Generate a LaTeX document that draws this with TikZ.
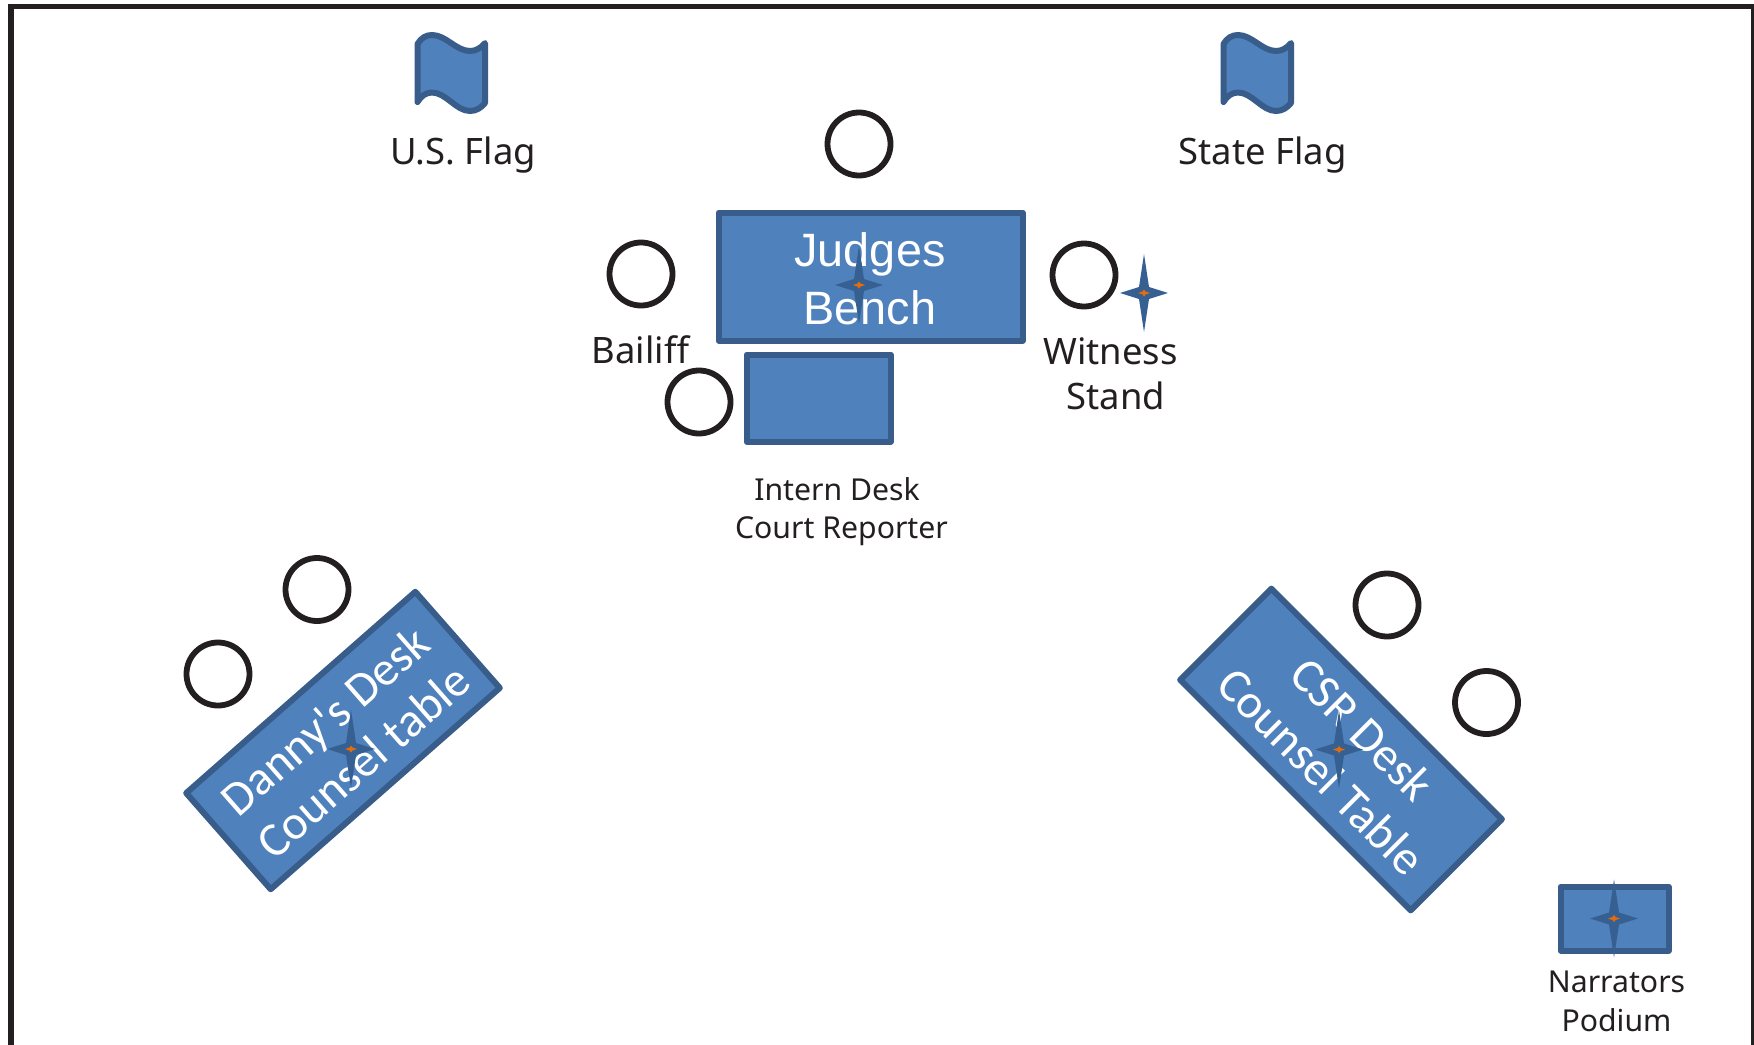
\documentclass[tikz,border=0pt]{standalone}
\usepackage{fontspec}
\setmainfont{Noto Sans}
\newfontfamily\tablefont{Carlito}
\newfontfamily\benchfont{Liberation Sans}
\definecolor{deskfill}{HTML}{4F81BD}
\definecolor{deskline}{HTML}{385D8A}
\definecolor{inkline}{HTML}{231F20}
\definecolor{starfill}{HTML}{376092}
\definecolor{starcore}{HTML}{E46C0A}
\tikzset{
  deskbox/.style={draw=deskline,fill=deskfill,line width=3pt,line join=round,rectangle,inner sep=0pt},
  seat/.style={draw=inkline,fill=white,line width=2.9pt,circle,inner sep=0pt,minimum size=31.5pt},
  biglabel/.style={text=inkline,anchor=base,inner sep=0pt,font=\fontsize{18.2}{18.2}\selectfont},
  smalllabel/.style={text=inkline,anchor=base,inner sep=0pt,font=\fontsize{15.1}{15.1}\selectfont},
  desktext/.style={text=white,anchor=base,inner sep=0pt,font=\tablefont\fontsize{24.1}{24.1}\selectfont},
  benchtext/.style={text=white,anchor=base,inner sep=0pt,font=\benchfont\fontsize{23.4}{23.4}\selectfont},
  flagshape/.pic={
    \draw[draw=deskline,fill=deskfill,line width=3pt,line join=round,line cap=round]
      (0,9) .. controls (3.5,3) and (8.5,0) .. (14.5,0)
      .. controls (28.5,0) and (38.5,16) .. (52.5,16)
      .. controls (58.5,16) and (63.5,13) .. (67.5,8)
      -- (67.5,68) .. controls (63.5,73) and (58.5,76) .. (52.5,76)
      .. controls (38.5,76) and (28.5,57.5) .. (14.5,57.5)
      .. controls (8.5,57.5) and (3.5,61) .. (0,67) -- cycle;
  },
  sparkle/.pic={
    \fill[starfill] (0,-39) -- (5,-6) -- (24,0) -- (5,6) -- (0,39) -- (-5,6) -- (-24,0) -- (-5,-6) -- cycle;
    \fill[starcore] (0,-3.5) -- (1.5,-1.5) -- (6,0) -- (1.5,1.5) -- (0,3.5) -- (-1.5,1.5) -- (-6,0) -- (-1.5,-1.5) -- cycle;
  },
}
\begin{document}
\begin{tikzpicture}[x=0.5pt,y=-0.5pt]
\useasboundingbox (0,0) rectangle (1754,1044);
\fill[white] (0,0) rectangle (1754,1044);
\clip (0,0) rectangle (1754,1044);
\draw[inkline,line width=2.8pt,line join=miter] (10.7,1050) -- (10.7,6.5) -- (1753.8,6.5) -- (1753.8,1050);

% flags
\pic at (417.5,35) {flagshape};
\pic at (1223.5,35) {flagshape};
\node[biglabel] (usflaglabel) at (463,164) {U.S. Flag};
\node[biglabel] (stateflaglabel) at (1262.5,164) {State Flag};

% seats
\node[seat] (judgeseat) at (859,144) {};
\node[seat] (bailiffseat) at (641,274) {};
\node[seat] (witnessseat) at (1084,275) {};
\node[seat] (internseat) at (699,402) {};
\node[seat] (dannyseata) at (317,589.5) {};
\node[seat] (dannyseatb) at (218,674) {};
\node[seat] (csrseata) at (1387,605) {};
\node[seat] (csrseatb) at (1486.5,702.5) {};

% desks
\node[deskbox,minimum width=152pt,minimum height=64pt] (bench) at (870.5,276.5) {};
\node[deskbox,minimum width=72pt,minimum height=43.5pt] (interndesk) at (818.5,398) {};
\node[deskbox,minimum width=54pt,minimum height=32pt] (podium) at (1614.5,918.5) {};
\node[deskbox,minimum width=152.5pt,minimum height=64pt,rotate=41.3] (dannytable) at (343,740.5) {};
\node[deskbox,minimum width=163pt,minimum height=64.5pt,rotate=-45] (csrtable) at (1341,749.5) {};

% labels
\node[benchtext] (judgesword) at (870,266) {Judges};
\node[benchtext] (benchword) at (870,324) {Bench};
\node[biglabel] (bailifflabel) at (640.5,363) {Bailiff};
\node[biglabel] (witnessword) at (1110.5,364) {Witness};
\node[biglabel] (standword) at (1116,409) {Stand};
\node[smalllabel] (internword) at (837,500) {Intern Desk};
\node[smalllabel] (reporterword) at (841.5,538) {Court Reporter};
\node[smalllabel] (narratorword) at (1616.5,992) {Narrators};
\node[smalllabel] (podiumword) at (1616.5,1031) {Podium};
\node[desktext,rotate=41.3] (dannyword) at (336,733) {Danny's Desk};
\node[desktext,rotate=41.3] (dannycounsel) at (374,773.5) {Counsel table};
\node[desktext,rotate=-45] (csrword) at (1351,741) {CSR Desk};
\node[desktext,rotate=-45] (csrcounsel) at (1310,783) {Counsel Table};

% stars
\pic at (859,285) {sparkle};
\pic at (1144,293) {sparkle};
\pic at (351,749) {sparkle};
\pic at (1339,749.5) {sparkle};
\pic at (1614,918.5) {sparkle};
\end{tikzpicture}
\end{document}
